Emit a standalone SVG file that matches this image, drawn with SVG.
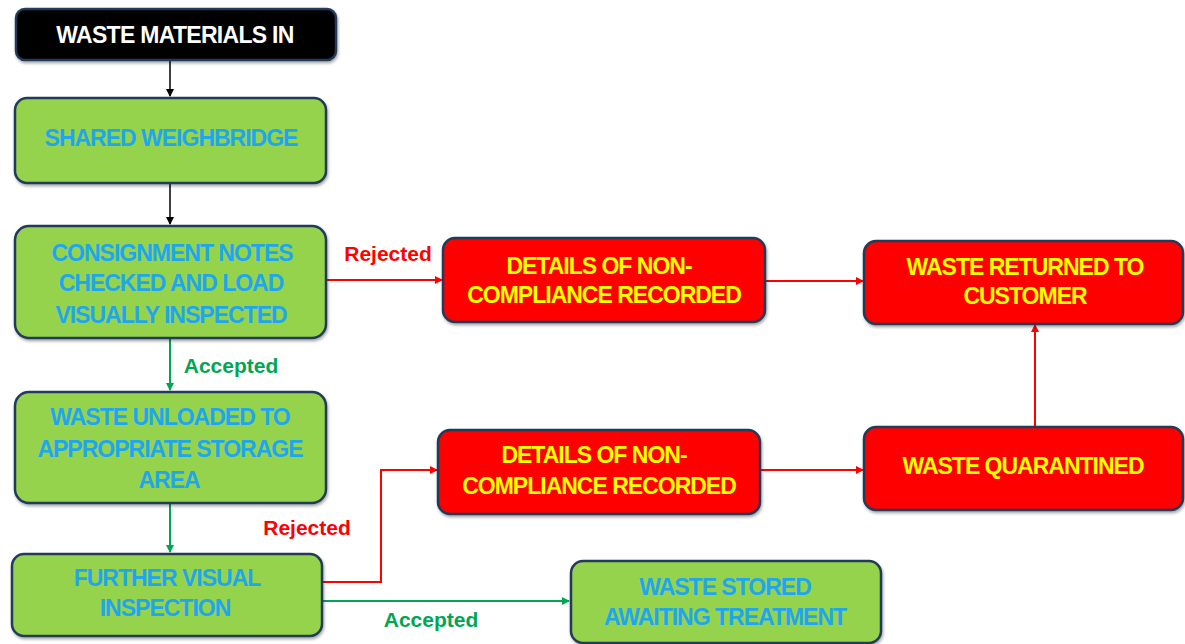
<svg xmlns="http://www.w3.org/2000/svg" width="1185" height="644" viewBox="0 0 1185 644">
<defs>
<filter id="sh" x="-10%" y="-10%" width="120%" height="130%">
<feDropShadow dx="1" dy="2" stdDeviation="1.5" flood-color="#000" flood-opacity="0.35"/>
</filter>
<marker id="ab" markerWidth="8" markerHeight="8" refX="7" refY="4" orient="auto" markerUnits="userSpaceOnUse"><path d="M0,0 L8,4 L0,8 Z" fill="#000"/></marker>
<marker id="ar" markerWidth="8" markerHeight="8" refX="7" refY="4" orient="auto" markerUnits="userSpaceOnUse"><path d="M0,0 L8,4 L0,8 Z" fill="#ff0000"/></marker>
<marker id="ag" markerWidth="8" markerHeight="8" refX="7" refY="4" orient="auto" markerUnits="userSpaceOnUse"><path d="M0,0 L8,4 L0,8 Z" fill="#00a651"/></marker>
</defs>
<style>
.g{fill:#95d34e;stroke:#233a58;stroke-width:2.5;filter:url(#sh)}
.r{fill:#ff0000;stroke:#233a58;stroke-width:2.5;filter:url(#sh)}
.k{fill:#000;stroke:#233a58;stroke-width:2.5;filter:url(#sh)}
text{font-family:"Liberation Sans",Arial,sans-serif;font-weight:bold;text-anchor:middle}
.tb{fill:#1ea7ee;font-size:23px;letter-spacing:-1px}
.ty{fill:#ffff00;font-size:23px;letter-spacing:-1px}
.tw{fill:#fff;font-size:23px;letter-spacing:-0.7px}
.lr{fill:#ff0000;font-size:21px}
.lg{fill:#00a651;font-size:21px}
.cb{stroke:#000;stroke-width:1.5;fill:none}
.cr{stroke:#ff0000;stroke-width:2;fill:none}
.cg{stroke:#00a651;stroke-width:2;fill:none}
</style>
<rect width="1185" height="644" fill="#fff"/>
<g id="connectors">
<line class="cb" x1="170" y1="61" x2="170" y2="96" marker-end="url(#ab)"/>
<line class="cb" x1="170" y1="184" x2="170" y2="224" marker-end="url(#ab)"/>
<line class="cr" x1="327" y1="280" x2="442" y2="280" marker-end="url(#ar)"/>
<line class="cr" x1="766" y1="281" x2="863" y2="281" marker-end="url(#ar)"/>
<line class="cg" x1="170" y1="339" x2="170" y2="390" marker-end="url(#ag)"/>
<line class="cg" x1="170" y1="504" x2="170" y2="552" marker-end="url(#ag)"/>
<polyline class="cr" points="323,582 381,582 381,470 437,470" marker-end="url(#ar)"/>
<line class="cr" x1="761" y1="470" x2="863" y2="470" marker-end="url(#ar)"/>
<line class="cr" x1="1035" y1="426" x2="1035" y2="325" marker-end="url(#ar)"/>
<line class="cg" x1="323" y1="601" x2="569" y2="601" marker-end="url(#ag)"/>
<text class="lr" x="388" y="261">Rejected</text>
<text class="lg" x="231" y="373">Accepted</text>
<text class="lr" x="307" y="535">Rejected</text>
<text class="lg" x="431" y="627">Accepted</text>
</g>
<g id="n-in"><rect class="k" x="16" y="9" width="320" height="51" rx="9"/><text class="tw" x="175" y="43">WASTE MATERIALS IN</text></g>
<g id="n-weigh"><rect class="g" x="15" y="98" width="311" height="85" rx="12"/><text class="tb" x="171" y="146">SHARED WEIGHBRIDGE</text></g>
<g id="n-consign"><rect class="g" x="15" y="226" width="311" height="112" rx="14"/>
<text class="tb" x="172" y="261">CONSIGNMENT NOTES</text><text class="tb" x="171" y="291">CHECKED AND LOAD</text><text class="tb" x="171" y="323">VISUALLY INSPECTED</text></g>
<g id="n-unload"><rect class="g" x="15" y="392" width="311" height="111" rx="14"/>
<text class="tb" x="170" y="425">WASTE UNLOADED TO</text><text class="tb" x="170" y="457">APPROPRIATE STORAGE</text><text class="tb" x="169" y="488">AREA</text></g>
<g id="n-further"><rect class="g" x="12" y="554" width="310" height="82" rx="12"/>
<text class="tb" x="167" y="586">FURTHER VISUAL</text><text class="tb" x="165" y="616">INSPECTION</text></g>
<g id="n-details1"><rect class="r" x="443" y="238" width="322" height="84" rx="12"/>
<text class="ty" x="599" y="274">DETAILS OF NON-</text><text class="ty" x="604" y="303">COMPLIANCE RECORDED</text></g>
<g id="n-returned"><rect class="r" x="864" y="241" width="319" height="83" rx="12"/>
<text class="ty" x="1025" y="275">WASTE RETURNED TO</text><text class="ty" x="1025" y="304">CUSTOMER</text></g>
<g id="n-details2"><rect class="r" x="438" y="430" width="322" height="84" rx="12"/>
<text class="ty" x="594" y="463">DETAILS OF NON-</text><text class="ty" x="599" y="494">COMPLIANCE RECORDED</text></g>
<g id="n-quarantine"><rect class="r" x="864" y="427" width="319" height="83" rx="12"/>
<text class="ty" x="1023" y="474">WASTE QUARANTINED</text></g>
<g id="n-stored"><rect class="g" x="571" y="561" width="310" height="82" rx="12"/>
<text class="tb" x="725" y="595">WASTE STORED</text><text class="tb" x="725" y="625">AWAITING TREATMENT</text></g>
</svg>
